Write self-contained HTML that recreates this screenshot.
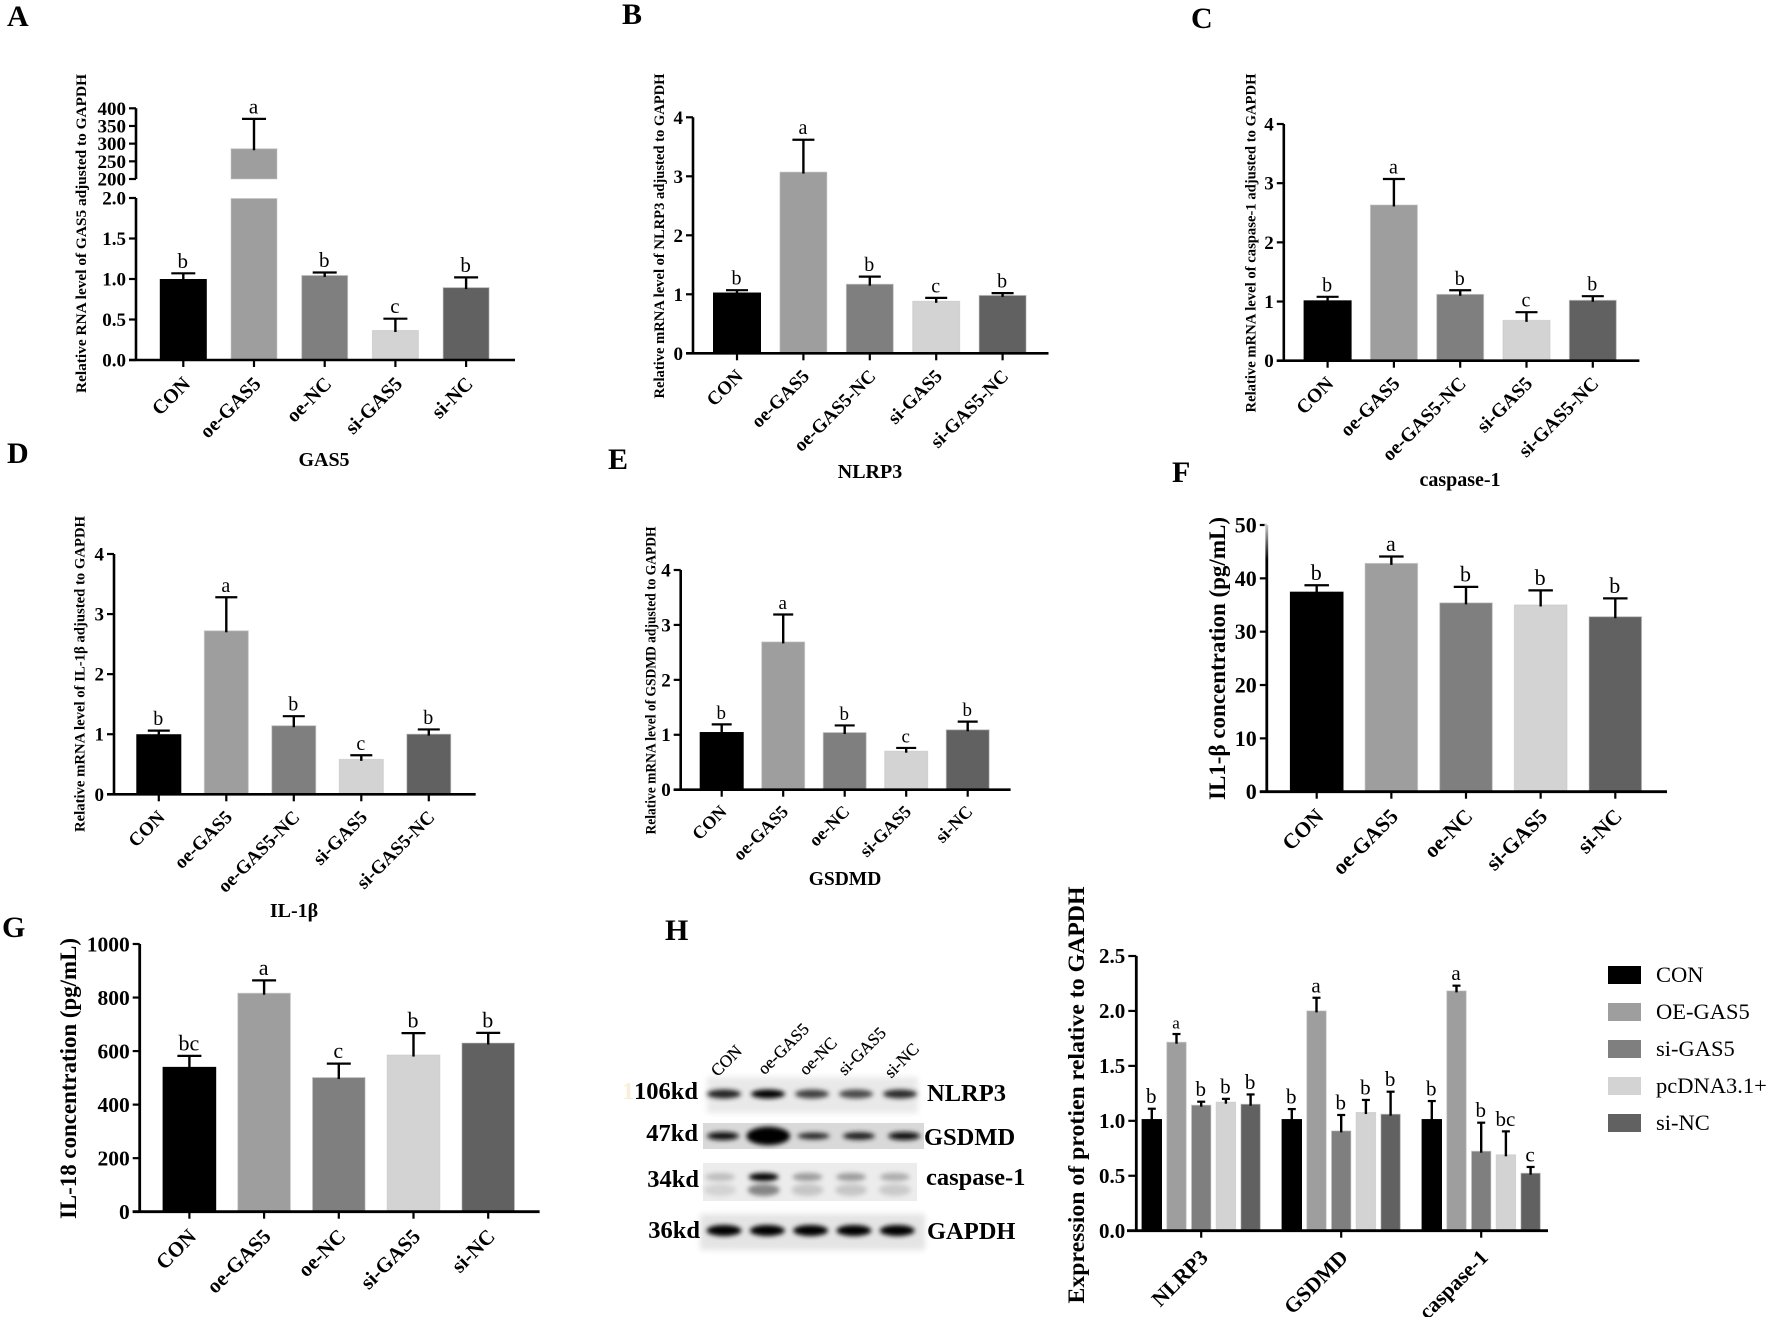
<!DOCTYPE html>
<html lang="en">
<head>
<meta charset="utf-8">
<title>GAS5 figure panels</title>
<style>
html,body{margin:0;padding:0;background:#fff;}
svg{display:block;}
text{font-family:"Liberation Serif","DejaVu Serif",serif;fill:#000;}
.b{font-weight:bold;}
.letter{font-size:30px;font-weight:bold;}
.ptitle{font-size:20px;font-weight:bold;text-anchor:middle;}
.kd{font-size:24.5px;font-weight:bold;text-anchor:end;}
.prot{font-size:24.5px;font-weight:bold;}
</style>
</head>
<body>
<svg id="fig" xmlns="http://www.w3.org/2000/svg" width="1772" height="1317" viewBox="0 0 1772 1317">
<defs>
<filter id="blurBand" x="-30%" y="-100%" width="160%" height="300%"><feGaussianBlur stdDeviation="2.3"/></filter>
<filter id="blurBg" x="-10%" y="-30%" width="120%" height="160%"><feGaussianBlur stdDeviation="3"/></filter>
<linearGradient id="fadeAxis" x1="0" y1="0" x2="0" y2="1"><stop offset="0" stop-color="#fff" stop-opacity=".8"/><stop offset="1" stop-color="#fff" stop-opacity="0"/></linearGradient>
</defs>
<rect width="1772" height="1317" fill="#fff"/>

<text class="letter" x="7" y="26">A</text>
<text class="letter" x="622" y="24">B</text>
<text class="letter" x="1191" y="28">C</text>
<text class="letter" x="7" y="463">D</text>
<text class="letter" x="608" y="469">E</text>
<text class="letter" x="1172" y="482">F</text>
<text class="letter" x="2" y="937">G</text>
<text class="letter" x="665" y="940">H</text>

<text class="ptitle" x="324" y="466">GAS5</text>
<text class="ptitle" x="870" y="478">NLRP3</text>
<text class="ptitle" x="1460" y="486" style="font-size:20px">caspase-1</text>
<text class="ptitle" x="294" y="917">IL-1β</text>
<text class="ptitle" x="845" y="885" style="font-size:19.5px">GSDMD</text>

<text class="b" text-anchor="middle" font-size="15" textLength="319" lengthAdjust="spacingAndGlyphs" transform="translate(86,233.5) rotate(-90)">Relative RNA level of GAS5 adjusted to GAPDH</text>
<text class="b" text-anchor="middle" font-size="15" textLength="325" lengthAdjust="spacingAndGlyphs" transform="translate(664,236) rotate(-90)">Relative mRNA level of NLRP3 adjusted to GAPDH</text>
<text class="b" text-anchor="middle" font-size="15" textLength="339" lengthAdjust="spacingAndGlyphs" transform="translate(1255.5,243) rotate(-90)">Relative mRNA level of caspase-1 adjusted to GAPDH</text>
<text class="b" text-anchor="middle" font-size="15" textLength="316" lengthAdjust="spacingAndGlyphs" transform="translate(84.5,674) rotate(-90)">Relative mRNA level of IL-1β adjusted to GAPDH</text>
<text class="b" text-anchor="middle" font-size="15" textLength="308" lengthAdjust="spacingAndGlyphs" transform="translate(655.5,680.5) rotate(-90)">Relative mRNA level of GSDMD adjusted to GAPDH</text>
<text class="b" text-anchor="middle" font-size="23" textLength="283" lengthAdjust="spacingAndGlyphs" transform="translate(1225,658.5) rotate(-90)">IL1-β concentration (pg/mL)</text>
<text class="b" text-anchor="middle" font-size="23" textLength="281" lengthAdjust="spacingAndGlyphs" transform="translate(76,1078.5) rotate(-90)">IL-18 concentration (pg/mL)</text>
<text class="b" text-anchor="middle" font-size="23.5" textLength="417" lengthAdjust="spacingAndGlyphs" transform="translate(1084,1095) rotate(-90)">Expression of protien relative to GAPDH</text>

<g id="blot">
<rect x="707" y="1077" width="211" height="36" fill="#e9e9e9" filter="url(#blurBg)"/>
<rect x="703" y="1123" width="221" height="26" fill="#d9d9d9"/>
<rect x="703" y="1163" width="214" height="38" fill="#ececec"/>
<rect x="700" y="1214" width="225" height="36" fill="#e4e4e4" filter="url(#blurBg)"/>
</g>
<text x="622" y="1099" font-size="24.5" font-weight="bold" style="fill:#f8efd6">1</text>
<text class="kd" x="698" y="1099">106kd</text>
<text class="kd" x="698" y="1141">47kd</text>
<text class="kd" x="699" y="1187">34kd</text>
<text class="kd" x="700" y="1238">36kd</text>
<text class="prot" x="927" y="1101">NLRP3</text>
<text class="prot" x="924" y="1145">GSDMD</text>
<text class="prot" x="926" y="1185">caspase-1</text>
<text class="prot" x="927" y="1239">GAPDH</text>
<text font-size="17" text-anchor="end" stroke="#000" stroke-width=".25" transform="translate(743,1052) rotate(-45)">CON</text>
<text font-size="17" text-anchor="end" stroke="#000" stroke-width=".25" transform="translate(810,1030) rotate(-45)">oe-GAS5</text>
<text font-size="17" text-anchor="end" stroke="#000" stroke-width=".25" transform="translate(838,1044) rotate(-45)">oe-NC</text>
<text font-size="17" text-anchor="end" stroke="#000" stroke-width=".25" transform="translate(887,1034) rotate(-45)">si-GAS5</text>
<text font-size="17" text-anchor="end" stroke="#000" stroke-width=".25" transform="translate(920,1050) rotate(-45)">si-NC</text>
</svg>

<script>
// ---------- shared categories and series names ----------
const categoriesShort = ['CON', 'oe-GAS5', 'oe-NC', 'si-GAS5', 'si-NC'];
const categoriesLong = ['CON', 'oe-GAS5', 'oe-GAS5-NC', 'si-GAS5', 'si-GAS5-NC'];
const barColors = ['#000000', '#9e9e9f', '#7f7f7f', '#d3d3d3', '#616161'];

// ---------- panel A ----------
const panelAValues = [1.0, 287, 1.05, 0.37, 0.9];
const panelAErrors = [0.07, 83, 0.03, 0.14, 0.12];
const panelALetters = ['b', 'a', 'b', 'c', 'b'];
const panelALowerTicks = ['0.0', '0.5', '1.0', '1.5', '2.0'];
const panelAUpperTicks = ['200', '250', '300', '350', '400'];

// ---------- panel B ----------
const panelBValues = [1.03, 3.08, 1.18, 0.89, 0.99];
const panelBErrors = [0.04, 0.54, 0.12, 0.05, 0.03];
const panelBLetters = ['b', 'a', 'b', 'c', 'b'];
const panelBTicks = ['0', '1', '2', '3', '4'];

// ---------- panel C ----------
const panelCValues = [1.02, 2.64, 1.13, 0.69, 1.03];
const panelCErrors = [0.06, 0.43, 0.06, 0.13, 0.06];
const panelCLetters = ['b', 'a', 'b', 'c', 'b'];
const panelCTicks = ['0', '1', '2', '3', '4'];

// ---------- panel D ----------
const panelDValues = [1.0, 2.73, 1.15, 0.59, 1.01];
const panelDErrors = [0.06, 0.55, 0.15, 0.06, 0.07];
const panelDLetters = ['b', 'a', 'b', 'c', 'b'];
const panelDTicks = ['0', '1', '2', '3', '4'];

// ---------- panel E ----------
const panelEValues = [1.05, 2.7, 1.05, 0.71, 1.1];
const panelEErrors = [0.14, 0.49, 0.12, 0.05, 0.14];
const panelELetters = ['b', 'a', 'b', 'c', 'b'];
const panelETicks = ['0', '1', '2', '3', '4'];

// ---------- panel F ----------
const panelFValues = [37.5, 42.9, 35.5, 35.1, 32.9];
const panelFErrors = [1.2, 1.2, 2.9, 2.65, 3.35];
const panelFLetters = ['b', 'a', 'b', 'b', 'b'];
const panelFTicks = ['0', '10', '20', '30', '40', '50'];

// ---------- panel G ----------
const panelGValues = [541, 818, 503, 587, 632];
const panelGErrors = [41, 46, 50, 80, 36];
const panelGLetters = ['bc', 'a', 'c', 'b', 'b'];
const panelGTicks = ['0', '200', '400', '600', '800', '1000'];

// ---------- panel H grouped bars ----------
const panelHGroups = ['NLRP3', 'GSDMD', 'caspase-1'];
const panelHSeries = ['CON', 'OE-GAS5', 'si-GAS5', 'pcDNA3.1+', 'si-NC'];
const panelHConValues = [1.016, 1.016, 1.016];
const panelHConErrors = [0.094, 0.091, 0.164];
const panelHConLetters = ['b', 'b', 'b'];
const panelHOeValues = [1.72, 2.005, 2.187];
const panelHOeErrors = [0.07, 0.115, 0.043];
const panelHOeLetters = ['a', 'a', 'a'];
const panelHSiValues = [1.147, 0.913, 0.728];
const panelHSiErrors = [0.027, 0.14, 0.255];
const panelHSiLetters = ['b', 'b', 'b'];
const panelHPcValues = [1.174, 1.08, 0.695];
const panelHPcErrors = [0.026, 0.11, 0.209];
const panelHPcLetters = ['b', 'b', 'bc'];
const panelHNcValues = [1.156, 1.065, 0.528];
const panelHNcErrors = [0.084, 0.2, 0.052];
const panelHNcLetters = ['b', 'b', 'c'];
const panelHTicks = ['0.0', '0.5', '1.0', '1.5', '2.0', '2.5'];

// ---------- western blot band strengths (0-1) and thickness per lane ----------
const blotNlrp3Strength = [0.85, 1, 0.7, 0.66, 0.8];
const blotGsdmdStrength = [0.92, 1, 0.82, 0.88, 0.95];
const blotGsdmdThickness = [1, 2.3, 0.85, 0.95, 1];
const blotCaspaseStrength = [0.12, 1, 0.28, 0.28, 0.2];
const blotCaspaseLowerStrength = [0.02, 0.38, 0.08, 0.08, 0.06];
const blotGapdhStrength = [1, 1, 1, 1, 1];

const NS = 'http://www.w3.org/2000/svg';
const fig = document.getElementById('fig');

function mk(tag, attrs, parent) {
  const el = document.createElementNS(NS, tag);
  for (const k in attrs) el.setAttribute(k, attrs[k]);
  parent.appendChild(el);
  return el;
}

// Piecewise linear axis: every segment maps a data range onto a pixel range.
function makeScale(segments) {
  return function (v) {
    for (const s of segments) {
      if (v <= s.d1) return s.r0 + (Math.max(v, s.d0) - s.d0) * (s.r1 - s.r0) / (s.d1 - s.d0);
    }
    const s = segments[segments.length - 1];
    return s.r0 + (v - s.d0) * (s.r1 - s.r0) / (s.d1 - s.d0);
  };
}

function drawYAxisSegment(g, x, r0, r1, tickLabels, d0, d1, cfg) {
  const line = mk('line', { x1: x, y1: r0, x2: x, y2: r1, stroke: '#000', 'stroke-width': cfg.axisW }, g);
  
  
  const n = tickLabels.length - 1;
  tickLabels.forEach(function (label, i) {
    const v = d0 + (d1 - d0) * i / n;
    const y = r0 + (v - d0) * (r1 - r0) / (d1 - d0);
    const t = mk('line', { x1: x - cfg.tickLen, y1: y, x2: x, y2: y, stroke: '#000', 'stroke-width': 2.2 }, g);
    
    
    const txt = mk('text', { x: x - cfg.tickLen - 3, y: y + cfg.tickFont * 0.34, 'text-anchor': 'end', 'font-size': cfg.tickFont, 'font-weight': 'bold' }, g);
    txt.textContent = label;
    
    
  });
}

function drawBar(g, scale, segments, cx, w, value, err, color, capW, letter, letterFont, errW) {
  segments.forEach(function (s) {
    const lo = s.d0;
    const hi = Math.min(value, s.d1);
    if (hi <= lo) return;
    const top = scale(hi);
    const bot = scale(lo);
    const bar = mk('rect', { x: cx - w / 2 + 0.5, y: top + 0.5, width: w - 1, height: bot - top - 0.5, fill: color, stroke: color === '#000000' ? '#000000' : '#c4c4c4', 'stroke-width': 1, 'stroke-opacity': color === '#000000' ? 1 : 0.6 }, g);
    
    
  });
  const yv = scale(value);
  const ye = scale(value + err);
  const stem = mk('line', { x1: cx, y1: yv + 2, x2: cx, y2: ye, stroke: '#000', 'stroke-width': errW }, g);
  
  
  const cap = mk('line', { x1: cx - capW / 2, y1: ye, x2: cx + capW / 2, y2: ye, stroke: '#000', 'stroke-width': 2.2 }, g);
  
  
  const lt = mk('text', { x: cx - 0.5, y: ye - 5.5, 'text-anchor': 'middle', 'font-size': letterFont }, g);
  lt.textContent = letter;
  
  
}

function drawCategoryLabel(g, x, y, label, cfg) {
  const t = mk('line', { x1: x, y1: y, x2: x, y2: y + 7, stroke: '#000', 'stroke-width': 2.2 }, g);
  
  
  const txt = mk('text', {
    'text-anchor': 'end', 'font-size': cfg.catFont, 'font-weight': 'bold',
    transform: 'translate(' + (x + cfg.catDx) + ',' + (y + cfg.catDy) + ') rotate(-45)'
  }, g);
  txt.textContent = label;
  
  
}

function drawPanel(cfg) {
  const g = mk('g', {}, fig);
  
  
  const scale = makeScale(cfg.segments);
  cfg.categories.forEach(function (c, i) {
    const cx = cfg.x0 + cfg.step * i;
    drawBar(g, scale, cfg.segments, cx, cfg.barW, cfg.values[i], cfg.errors[i], barColors[i], cfg.capW, cfg.letters[i], cfg.letterFont, 2.4);
    drawCategoryLabel(g, cx, cfg.segments[0].r0, c, cfg);
  });
  cfg.segments.forEach(function (s, i) {
    drawYAxisSegment(g, cfg.axisX, s.r0, s.r1, cfg.tickSets[i], s.d0, s.d1, cfg);
  });
  const base = mk('line', { x1: cfg.axisX - cfg.tickLen, y1: cfg.segments[0].r0, x2: cfg.axisRight, y2: cfg.segments[0].r0, stroke: '#000', 'stroke-width': cfg.axisW }, g);
  
  
}

drawPanel({ name: 'panel-a-gas5-chart', categories: categoriesShort, values: panelAValues, errors: panelAErrors, letters: panelALetters,
  segments: [{ d0: 0, d1: 2, r0: 360, r1: 198 }, { d0: 200, d1: 400, r0: 179, r1: 108.3 }],
  tickSets: [panelALowerTicks, panelAUpperTicks],
  axisX: 136, axisRight: 515, x0: 183.3, step: 70.7, barW: 47, capW: 24, tickLen: 7, axisW: 2.6, tickFont: 19, catFont: 20, catDx: 8, catDy: 25, letterFont: 21 });

drawPanel({ name: 'panel-b-nlrp3-chart', categories: categoriesLong, values: panelBValues, errors: panelBErrors, letters: panelBLetters,
  segments: [{ d0: 0, d1: 4, r0: 353.3, r1: 117.3 }], tickSets: [panelBTicks],
  axisX: 693, axisRight: 1048.5, x0: 737, step: 66.4, barW: 48, capW: 22, tickLen: 7, axisW: 2.6, tickFont: 19, catFont: 19, catDx: 7, catDy: 24, letterFont: 20 });

drawPanel({ name: 'panel-c-caspase-1-chart', categories: categoriesLong, values: panelCValues, errors: panelCErrors, letters: panelCLetters,
  segments: [{ d0: 0, d1: 4, r0: 360.7, r1: 124 }], tickSets: [panelCTicks],
  axisX: 1283.8, axisRight: 1639.4, x0: 1327.6, step: 66.3, barW: 48, capW: 22, tickLen: 7, axisW: 2.6, tickFont: 19, catFont: 19.5, catDx: 7, catDy: 24, letterFont: 20 });

drawPanel({ name: 'panel-d-il-1b-chart', categories: categoriesLong, values: panelDValues, errors: panelDErrors, letters: panelDLetters,
  segments: [{ d0: 0, d1: 4, r0: 794.3, r1: 554 }], tickSets: [panelDTicks],
  axisX: 114, axisRight: 475.7, x0: 158.8, step: 67.5, barW: 45, capW: 22, tickLen: 7, axisW: 2.6, tickFont: 19, catFont: 19, catDx: 7, catDy: 24, letterFont: 20 });

drawPanel({ name: 'panel-e-gsdmd-chart', categories: categoriesShort, values: panelEValues, errors: panelEErrors, letters: panelELetters,
  segments: [{ d0: 0, d1: 4, r0: 789.7, r1: 570 }], tickSets: [panelETicks],
  axisX: 680.7, axisRight: 1010.6, x0: 721.7, step: 61.5, barW: 44, capW: 20, tickLen: 7, axisW: 2.6, tickFont: 19, catFont: 18, catDx: 6, catDy: 23, letterFont: 19 });

drawPanel({ name: 'panel-f-il-1b-concentration-chart', categories: categoriesShort, values: panelFValues, errors: panelFErrors, letters: panelFLetters,
  segments: [{ d0: 0, d1: 50, r0: 791.7, r1: 525 }], tickSets: [panelFTicks],
  axisX: 1266.8, axisRight: 1667, x0: 1316.7, step: 74.65, barW: 53.6, capW: 24.5, tickLen: 7, axisW: 2.8, tickFont: 22, catFont: 21.5, catDx: 8, catDy: 26, letterFont: 22 });

drawPanel({ name: 'panel-g-il-18-concentration-chart', categories: categoriesShort, values: panelGValues, errors: panelGErrors, letters: panelGLetters,
  segments: [{ d0: 0, d1: 1000, r0: 1211.7, r1: 944 }], tickSets: [panelGTicks],
  axisX: 139.7, axisRight: 539.6, x0: 189.4, step: 74.7, barW: 53.6, capW: 24, tickLen: 7, axisW: 2.8, tickFont: 21.5, catFont: 21, catDx: 8, catDy: 26, letterFont: 22 });

// ---------- fade at top of panel F axis, as in the source scan ----------
(function () {
  const fade = mk('rect', { x: 1264.5, y: 524, width: 4.6, height: 36, fill: 'url(#fadeAxis)' }, fig);
  
  
})();

// ---------- panel H grouped chart ----------
(function () {
  const g = mk('g', {}, fig);
  
  
  const seg = { d0: 0, d1: 2.5, r0: 1230.7, r1: 956 };
  const scale = makeScale([seg]);
  const allValues = [panelHConValues, panelHOeValues, panelHSiValues, panelHPcValues, panelHNcValues];
  const allErrors = [panelHConErrors, panelHOeErrors, panelHSiErrors, panelHPcErrors, panelHNcErrors];
  const allLetters = [panelHConLetters, panelHOeLetters, panelHSiLetters, panelHPcLetters, panelHNcLetters];
  const cfg = { tickLen: 8, axisW: 2.8, tickFont: 21, catFont: 21.5, catDx: 8, catDy: 28 };
  panelHGroups.forEach(function (name, gi) {
    const groupCenter = 1201.2 + 140 * gi;
    panelHSeries.forEach(function (s, si) {
      const cx = groupCenter + (si - 2) * 24.7;
      drawBar(g, scale, [seg], cx, 20.4, allValues[si][gi], allErrors[si][gi], barColors[si], 8, allLetters[si][gi], (gi === 0 && si === 1) ? 17 : 21, 2.4);
    });
    drawCategoryLabel(g, groupCenter, seg.r0, name, cfg);
  });
  drawYAxisSegment(g, 1136.3, seg.r0, seg.r1, panelHTicks, seg.d0, seg.d1, cfg);
  const base = mk('line', { x1: 1127, y1: seg.r0, x2: 1548, y2: seg.r0, stroke: '#000', 'stroke-width': 2.8 }, g);
  
  

  const lg = mk('g', {}, fig);
  
  
  panelHSeries.forEach(function (s, i) {
    const y = 966 + 37 * i;
    const sw = mk('rect', { x: 1608, y: y, width: 33, height: 18, fill: barColors[i] }, lg);
    
    
    const t = mk('text', { x: 1656, y: y + 16, 'font-size': 22.5 }, lg);
    t.textContent = s;
    
    
  });
})();

// ---------- western blot bands ----------
(function () {
  const blot = document.getElementById('blot');
  function row(name, y, x0, step, strengths, thickness, rx, ry) {
    strengths.forEach(function (st, i) {
      const grey = Math.round(215 - 215 * st);
      const e = mk('ellipse', {
        cx: x0 + step * i, cy: y, rx: rx * (thickness ? Math.max(1, Math.sqrt(thickness[i]) * 0.9) : 1),
        ry: ry * (thickness ? thickness[i] : 1), fill: 'rgb(' + grey + ',' + grey + ',' + grey + ')',
        filter: 'url(#blurBand)'
      }, blot);
      
      
    });
  }
  row('nlrp3', 1094, 724, 44, blotNlrp3Strength, null, 17, 4.5);
  row('gsdmd', 1136, 723, 45.3, blotGsdmdStrength, blotGsdmdThickness, 16, 4);
  row('caspase-1-lower', 1190, 720, 43.7, blotCaspaseLowerStrength, null, 16, 6);
  row('caspase-1', 1177, 720, 43.7, blotCaspaseStrength, null, 15, 4);
  row('gapdh', 1230.5, 724, 43.3, blotGapdhStrength, null, 17.5, 5.5);
})();
</script>
</body>
</html>
